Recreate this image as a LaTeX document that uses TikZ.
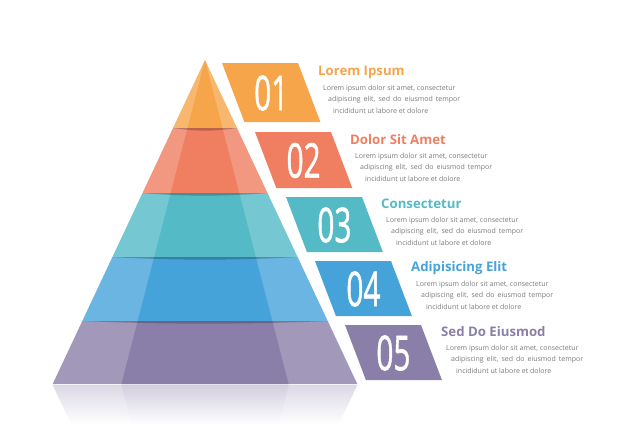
\documentclass[tikz,border=0pt]{standalone}
\usepackage{fontspec}
\setmainfont{Open Sans}
\newfontfamily\numfont[FakeBold=1.3]{Open Sans}
\definecolor{orangeI}{HTML}{F6A54A}
\definecolor{salmonI}{HTML}{F07E60}
\definecolor{tealI}{HTML}{53BAC6}
\definecolor{blueI}{HTML}{45A3D9}
\definecolor{purpleI}{HTML}{8A7FA9}
\definecolor{bodygray}{HTML}{7A7A7A}

\begin{document}
\begin{tikzpicture}[x=1pt,y=-1pt,
    title/.style={anchor=west,inner sep=0pt,font=\bfseries\fontsize{13.2}{15}\selectfont},
    body/.style={anchor=west,inner sep=0pt,text=bodygray,font=\fontsize{7}{8}\selectfont},
    number/.style={text=white,inner sep=0pt,font=\numfont\fontsize{48}{50}\selectfont},
    shadow/.style={black,opacity=0.22}]
    \useasboundingbox (0,0) rectangle (626,447);
    %Reflection
    \shade[top color=purpleI!30, bottom color=white] (52.7,385) -- (357.3,385) -- (338.5,425) -- (71.5,425) -- cycle;
    \shade[top color=purpleI!38, bottom color=white] (121.4,385) -- (288.6,385) -- (278.3,425) -- (131.7,425) -- cycle;
    %Layer 1
    \fill[orangeI!80!white] (205,60) -- (237,128) -- (173,128) -- cycle;
    \fill[orangeI] (205,60) -- (222.5,128) -- (187.5,128) -- cycle;
    %Layer 2
    \fill[salmonI!80!white] (173,128) -- (237,128) -- (267.5,193) -- (142.5,193) -- cycle;
    \fill[salmonI] (187.5,128) -- (222.5,128) -- (239.3,193) -- (170.7,193) -- cycle;
    \fill[shadow] (173,128) .. controls (195,131.5) and (215,131.5) .. (237,128) -- cycle;
    %Layer 3
    \fill[tealI!80!white] (142.5,193) -- (267.5,193) -- (297.6,257) -- (112.4,257) -- cycle;
    \fill[tealI] (170.7,193) -- (239.3,193) -- (255.8,257) -- (154.2,257) -- cycle;
    \fill[shadow] (142.5,193) .. controls (180,196.5) and (230,196.5) .. (267.5,193) -- cycle;
    %Layer 4
    \fill[blueI!80!white] (112.4,257) -- (297.6,257) -- (327.7,321) -- (82.3,321) -- cycle;
    \fill[blueI] (154.2,257) -- (255.8,257) -- (272.3,321) -- (137.7,321) -- cycle;
    \fill[shadow] (112.4,257) .. controls (170,260.5) and (240,260.5) .. (297.6,257) -- cycle;
    %Layer 5
    \fill[purpleI!80!white] (82.3,321) -- (327.7,321) -- (357.3,384) -- (52.7,384) -- cycle;
    \fill[purpleI] (137.7,321) -- (272.3,321) -- (288.6,384) -- (121.4,384) -- cycle;
    \fill[shadow] (82.3,321) .. controls (160,324.5) and (250,324.5) .. (327.7,321) -- cycle;
    %Boxes
    \fill[orangeI] (222,63) -- (298,63) -- (320.4,122) -- (244.4,122) -- cycle;
    \fill[salmonI] (255,132) -- (331,132) -- (352.3,188) -- (276.3,188) -- cycle;
    \fill[tealI] (286,197) -- (362,197) -- (382.9,252) -- (306.9,252) -- cycle;
    \fill[blueI] (315,261) -- (391,261) -- (411.9,316) -- (335.9,316) -- cycle;
    \fill[purpleI] (345,325) -- (421,325) -- (441.9,380) -- (365.9,380) -- cycle;
    %Numbers
    \node[number] (n1) at (271.2,93) {\scalebox{0.62}[1]{01}};
    \node[number] (n2) at (303.6,160.5) {\scalebox{0.62}[1]{02}};
    \node[number] (n3) at (334.4,225) {\scalebox{0.62}[1]{03}};
    \node[number] (n4) at (363.4,289) {\scalebox{0.62}[1]{04}};
    \node[number] (n5) at (393.4,353) {\scalebox{0.62}[1]{05}};
    %Texts
    \node[title,text=orangeI] (t1) at (318,72) {Lorem Ipsum};
    \node[body] (a1) at (323,89) {Lorem ipsum dolor sit amet, consectetur};
    \node[body] (b1) at (328,100) {\makebox[132pt][s]{adipiscing elit, sed do eiusmod tempor}};
    \node[body] (c1) at (333,111) {incididunt ut labore et dolore};
    \node[title,text=salmonI] (t2) at (350,140) {Dolor Sit Amet};
    \node[body] (a2) at (355,157) {Lorem ipsum dolor sit amet, consectetur};
    \node[body] (b2) at (360,168) {\makebox[132pt][s]{adipiscing elit, sed do eiusmod tempor}};
    \node[body] (c2) at (365,179) {incididunt ut labore et dolore};
    \node[title,text=tealI] (t3) at (381,204) {Consectetur};
    \node[body] (a3) at (386,221) {Lorem ipsum dolor sit amet, consectetur};
    \node[body] (b3) at (391,232) {\makebox[132pt][s]{adipiscing elit, sed do eiusmod tempor}};
    \node[body] (c3) at (396,243) {incididunt ut labore et dolore};
    \node[title,text=blueI] (t4) at (411,268) {Adipisicing Elit};
    \node[body] (a4) at (416,285) {Lorem ipsum dolor sit amet, consectetur};
    \node[body] (b4) at (421,296) {\makebox[132pt][s]{adipiscing elit, sed do eiusmod tempor}};
    \node[body] (c4) at (426,307) {incididunt ut labore et dolore};
    \node[title,text=purpleI] (t5) at (441,332) {Sed Do Eiusmod};
    \node[body] (a5) at (446,349) {Lorem ipsum dolor sit amet, consectetur};
    \node[body] (b5) at (451,360) {\makebox[132pt][s]{adipiscing elit, sed do eiusmod tempor}};
    \node[body] (c5) at (456,371) {incididunt ut labore et dolore};
\end{tikzpicture}
\end{document}
